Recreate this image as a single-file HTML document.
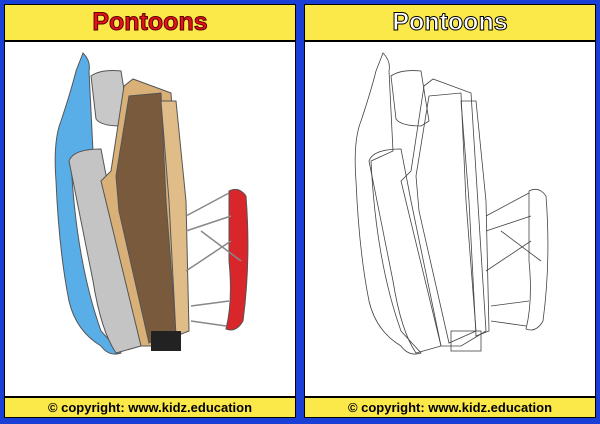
<!DOCTYPE html>
<html><head><style>
body{margin:0;width:600px;height:424px;background:#1a3fd6;position:relative;overflow:hidden;font-family:"Liberation Sans",sans-serif}
.p{position:absolute;top:4px;width:292px;height:414px;background:#fff;border:1px solid #000;box-sizing:border-box}
.h{position:absolute;left:0;right:0;top:0;height:35px;background:#fbe94a;border-bottom:2px solid #000;text-align:center;font-weight:bold;font-size:25px;line-height:35px}
.f{position:absolute;left:0;right:0;bottom:0;height:19px;background:#fbe94a;border-top:2px solid #000;text-align:center;font-weight:bold;font-size:13px;line-height:19px}
</style></head><body>
<div class="p" style="left:4px">
<div class="h" style="color:#e8121b;-webkit-text-stroke:1px #5a0000">Pontoons</div>
<svg style="position:absolute;left:-4px;top:-4px" width="300" height="420">
<g stroke="#555" stroke-width="1">
<path d="M82 52 Q90 60 88 70 L92 150 L70 160 Q75 260 100 330 L120 352 Q108 356 100 345 Q75 330 68 300 Q58 250 55 180 Q52 140 60 120 Q70 90 75 70Z" fill="#5aaee8"/>
<path d="M90 75 Q100 68 120 70 L128 120 L120 125 Q100 125 95 118Z" fill="#c8c8c8"/>
<path d="M68 160 Q72 148 100 148 L110 200 L140 345 L115 352 Q100 330 92 280Z" fill="#c4c4c4"/>
<path d="M123 85 L132 78 L170 92 L185 330 L160 345 L140 345 L100 180 L110 170Z" fill="#d8b078"/>
<path d="M128 95 L160 92 L165 200 L175 330 L148 342 L118 210 L115 175Z" fill="#7a5a3c"/>
<path d="M160 100 L175 100 L185 200 L188 330 L175 335 L168 200Z" fill="#e0bc88"/>
<path d="M228 190 Q238 185 245 195 Q250 260 242 320 Q235 332 225 328 Q232 300 228 260Z" fill="#d8262a"/>
</g>
<g stroke="#888" stroke-width="1.5" fill="none">
<path d="M185 215 L228 192 M185 230 L230 215 M185 270 L230 240 M190 305 L228 300 M190 320 L225 325 M200 230 L240 260"/>
</g>
<rect x="150" y="330" width="30" height="20" fill="#222"/>
</svg>
<div class="f">© copyright: www.kidz.education</div>
</div>
<div class="p" style="left:304px">
<div class="h" style="color:#fff;-webkit-text-stroke:1px #000">Pontoons</div>
<svg style="position:absolute;left:-4px;top:-4px" width="300" height="420" fill="none" stroke="#444" stroke-width="0.8">
<path d="M82 52 Q90 60 88 70 L92 150 L70 160 Q75 260 100 330 L120 352 Q108 356 100 345 Q75 330 68 300 Q58 250 55 180 Q52 140 60 120 Q70 90 75 70Z"/>
<path d="M90 75 Q100 68 120 70 L128 120 L120 125 Q100 125 95 118Z"/>
<path d="M68 160 Q72 148 100 148 L110 200 L140 345 L115 352 Q100 330 92 280Z"/>
<path d="M123 85 L132 78 L170 92 L185 330 L160 345 L140 345 L100 180 L110 170Z"/>
<path d="M128 95 L160 92 L165 200 L175 330 L148 342 L118 210 L115 175Z"/>
<path d="M160 100 L175 100 L185 200 L188 330 L175 335 L168 200Z"/>
<path d="M228 190 Q238 185 245 195 Q250 260 242 320 Q235 332 225 328 Q232 300 228 260Z"/>
<path d="M185 215 L228 192 M185 230 L230 215 M185 270 L230 240 M190 305 L228 300 M190 320 L225 325 M200 230 L240 260"/>
<rect x="150" y="330" width="30" height="20"/>
</svg>
<div class="f">© copyright: www.kidz.education</div>
</div>
</body></html>
